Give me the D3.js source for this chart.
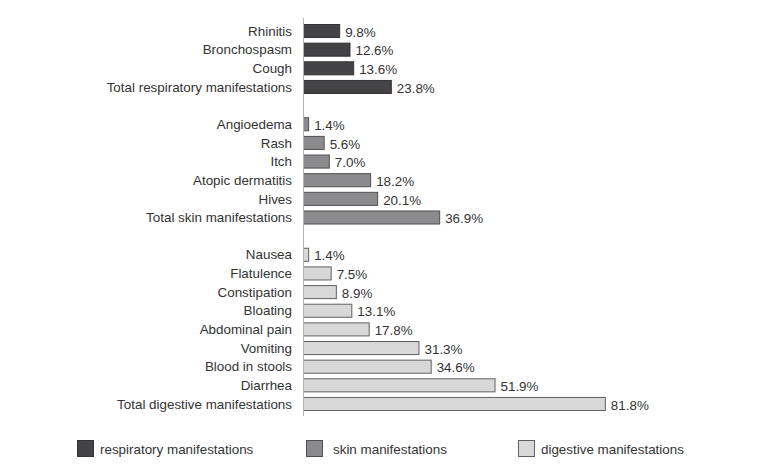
<!DOCTYPE html>
<html>
<head>
<meta charset="utf-8">
<script src="https://cdn.jsdelivr.net/npm/d3@7"></script>
<style>
  body { margin: 0; background: #fff; }
  svg { display: block; font-family: "Liberation Sans", Arial, sans-serif; }
</style>
</head>
<body>
<svg id="chart" width="758" height="467"></svg>
<script>
const respLabels = ["Rhinitis", "Bronchospasm", "Cough", "Total respiratory manifestations"];
const respValues = [9.8, 12.6, 13.6, 23.8];
const skinLabels = ["Angioedema", "Rash", "Itch", "Atopic dermatitis", "Hives", "Total skin manifestations"];
const skinValues = [1.4, 5.6, 7.0, 18.2, 20.1, 36.9];
const digLabels = ["Nausea", "Flatulence", "Constipation", "Bloating", "Abdominal pain", "Vomiting",
  "Blood in stools", "Diarrhea", "Total digestive manifestations"];
const digValues = [1.4, 7.5, 8.9, 13.1, 17.8, 31.3, 34.6, 51.9, 81.8];
const groupNames = ["respiratory manifestations", "skin manifestations", "digestive manifestations"];

const fills = ["#434346", "#8b8b8d", "#d8d8d8"];
const strokes = ["#333335", "#505052", "#606060"];

// rows with a blank spacer between the groups
const rows = [];
[[respLabels, respValues], [skinLabels, skinValues], [digLabels, digValues]].forEach(([labs, vals], g) => {
  if (g > 0) rows.push({ key: "gap" + g, gap: true });
  labs.forEach((l, i) => rows.push({ key: l, label: l, value: vals[i], group: g }));
});
const data = rows.filter(d => !d.gap);

const svg = d3.select("#chart");
const x0 = 303;
const fs = 13.4;
const x = d3.scaleLinear().domain([0, 100]).range([x0, x0 + 369]);
const y = d3.scaleBand().domain(rows.map(d => d.key)).range([21.7, 413.3]).paddingInner(0.3).paddingOuter(0.15);

const bars = svg.append("g");
bars.selectAll("rect")
  .data(data)
  .join("rect")
  .attr("x", x(0) + 0.5)
  .attr("y", d => y(d.key))
  .attr("width", d => x(d.value) - x(0))
  .attr("height", y.bandwidth())
  .attr("fill", d => fills[d.group])
  .attr("stroke", d => strokes[d.group])
  .attr("stroke-width", 1);

// category labels
svg.append("g").selectAll("text")
  .data(data)
  .join("text")
  .attr("x", 292)
  .attr("y", d => y(d.key) + y.bandwidth() / 2)
  .attr("dy", "0.35em")
  .attr("text-anchor", "end")
  .attr("font-size", fs)
  .attr("fill", "#333")
  .text(d => d.label);

// value labels
svg.append("g").selectAll("text")
  .data(data)
  .join("text")
  .attr("x", d => x(d.value) + 6)
  .attr("y", d => y(d.key) + y.bandwidth() / 2 + 1)
  .attr("dy", "0.35em")
  .attr("font-size", fs)
  .attr("fill", "#333")
  .text(d => d.value.toFixed(1) + "%");

// axis line
svg.append("line")
  .attr("x1", x0 + 0.5).attr("x2", x0 + 0.5)
  .attr("y1", 18).attr("y2", 416)
  .attr("stroke", "#b5b5b5");

// legend
const legX = [77, 306, 518];
const leg = svg.append("g").selectAll("g")
  .data(groupNames)
  .join("g")
  .attr("transform", (d, i) => `translate(${legX[i]}, 440)`);
leg.append("rect")
  .attr("x", 0.5).attr("y", 0.5)
  .attr("width", 16).attr("height", 16)
  .attr("fill", (d, i) => fills[i])
  .attr("stroke", (d, i) => strokes[i]);
leg.append("text")
  .attr("x", (d, i) => [23, 27, 23][i])
  .attr("y", 9)
  .attr("dy", "0.35em")
  .attr("font-size", fs)
  .attr("fill", "#333")
  .text(d => d);
</script>
</body>
</html>
